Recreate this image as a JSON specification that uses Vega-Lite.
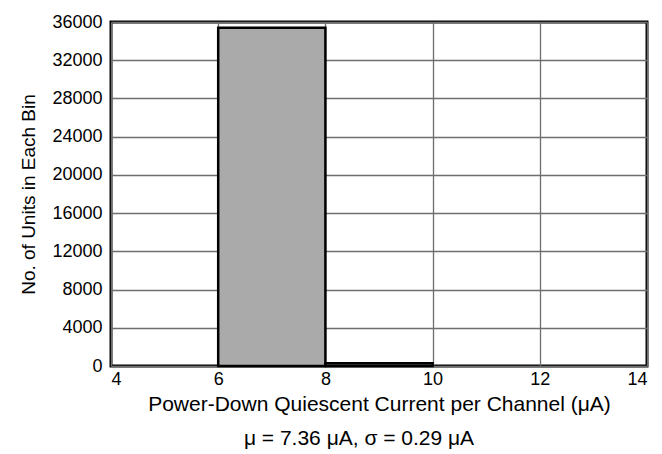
{
  "$schema": "https://vega.github.io/schema/vega-lite/v6.json",
  "width": 536,
  "height": 344,
  "autosize": {"type": "none"},
  "padding": {"left": 111, "top": 22, "right": 15, "bottom": 88},
  "background": "white",
  "title": {
    "text": "μ = 7.36 μA, σ = 0.29 μA",
    "orient": "bottom",
    "anchor": "middle",
    "font": "Liberation Sans",
    "fontSize": 21,
    "fontWeight": "normal",
    "color": "black",
    "offset": 14,
    "dx": -20
  },
  "config": {
    "view": {"stroke": "black", "strokeWidth": 3},
    "axis": {
      "labelFont": "Liberation Sans",
      "titleFont": "Liberation Sans",
      "labelColor": "black",
      "titleColor": "black",
      "titleFontWeight": "normal",
      "domain": false,
      "ticks": false,
      "gridColor": "#6e6e6e",
      "gridWidth": 1.3,
      "gridOpacity": 1
    }
  },
  "data": {
    "values": [
      {"bin_start": 6, "bin_end": 8, "count": 35400},
      {"bin_start": 8, "bin_end": 10, "count": 300}
    ]
  },
  "mark": {"type": "bar", "color": "#aaaaaa", "stroke": "black", "strokeWidth": 2.5},
  "encoding": {
    "x": {
      "field": "bin_start",
      "type": "quantitative",
      "scale": {"domain": [4, 14], "nice": false, "zero": false},
      "axis": {
        "values": [4, 6, 8, 10, 12, 14],
        "format": "d",
        "title": "Power-Down Quiescent Current per Channel (μA)",
        "labelFontSize": 18,
        "labelPadding": 4,
        "titleFontSize": 21,
        "titlePadding": 5
      }
    },
    "x2": {"field": "bin_end"},
    "y": {
      "field": "count",
      "type": "quantitative",
      "scale": {"domain": [0, 36000], "nice": false},
      "axis": {
        "values": [0, 4000, 8000, 12000, 16000, 20000, 24000, 28000, 32000, 36000],
        "format": "d",
        "title": "No. of Units in Each Bin",
        "labelFontSize": 18,
        "labelPadding": 9,
        "titleFontSize": 19,
        "titlePadding": 13
      }
    },
    "y2": {"datum": 0}
  }
}
